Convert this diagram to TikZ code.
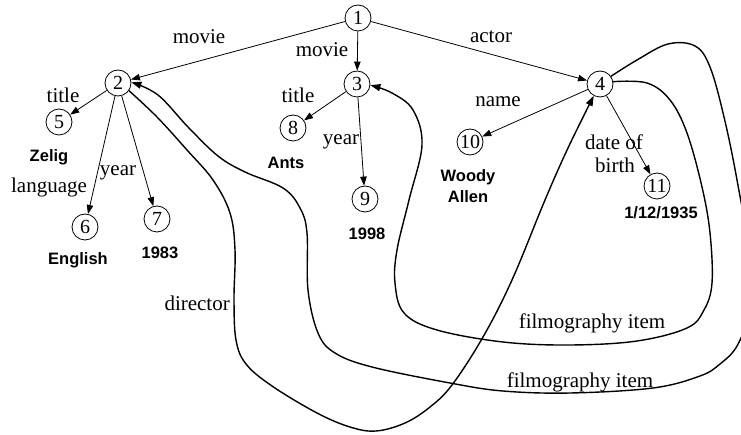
\documentclass[tikz,border=0pt]{standalone}
\usepackage{fontspec}
\setmainfont{Liberation Serif}
\newfontfamily\valfont{Liberation Sans}
\usetikzlibrary{arrows.meta}
\tikzset{
  vnode/.style={circle,draw,line width=0.8pt,minimum size=26pt,inner sep=0pt,font=\fontsize{20}{22}\selectfont},
  lbl/.style={inner sep=0pt,font=\fontsize{21}{24}\selectfont},
  val/.style={inner sep=0pt,font=\valfont\bfseries\fontsize{16.5}{19}\selectfont},
  edge/.style={line width=0.8pt,-{Triangle[length=9pt,width=6.5pt]}},
  link/.style={line width=1.4pt,-{Triangle[length=10pt,width=7pt]}},
}
\begin{document}
\begin{tikzpicture}[x=1pt,y=-1pt]
\useasboundingbox (0,0) rectangle (741,435);
\begin{scope}
\clip (0,0) rectangle (741,435);
% nodes
\node[vnode] (n1) at (358,18) {1};
\node[vnode] (n2) at (118,83) {2};
\node[vnode] (n3) at (357,84) {3};
\node[vnode] (n4) at (600,84) {4};
\node[vnode] (n5) at (59,122) {5};
\node[vnode] (n6) at (85,227) {6};
\node[vnode] (n7) at (157,219) {7};
\node[vnode] (n8) at (293,128) {8};
\node[vnode] (n9) at (365,199) {9};
\node[vnode] (n10) at (470,142) {10};
\node[vnode] (n11) at (657,186) {11};
% straight edges
\draw[edge] (n1) -- (n2);
\draw[edge] (n1) -- (n3);
\draw[edge] (n1) -- (n4);
\draw[edge] (n2) -- (n5);
\draw[edge] (n2) -- (n6);
\draw[edge] (n2) -- (n7);
\draw[edge] (n3) -- (n8);
\draw[edge] (n3) -- (n9);
\draw[edge] (n4) -- (n10);
\draw[edge] (n4) -- (n11);
% director: 2 -> 4
\draw[link] plot[smooth,tension=0.6] coordinates {(n2.-35) (157,117) (187,150) (213,180) (230,213) (235,250) (234,300) (236,340) (246,364) (272,386) (317,413) (350,427) (376,431) (405,423) (430,407) (452,385) (483,337) (512,280) (545,200) (568,148) (n4.-118)};
% filmography item: 4 -> 2 (outer)
\draw[link] plot[smooth,tension=0.6] coordinates {(n4.35) (637,60) (668,44) (695,46) (710,67) (724,117) (737,180) (749,255) (747,315) (737,346) (720,364) (700,376) (653,388) (570,393) (503,391) (450,383) (372,367) (335,353) (318,333) (308,290) (307,233) (300,208) (283,188) (245,172) (218,156) (188,127) (158,95) (n2.3)};
% filmography item: 4 -> 3 (inner)
\draw[link] plot[smooth,tension=0.6] coordinates {(n4.10) (647,83) (670,100) (687,133) (702,187) (710,233) (712,283) (704,310) (687,328) (637,341) (570,345) (503,342) (437,330) (404,313) (395,283) (397,250) (409,200) (422,145) (413,110) (392,93) (n3.-5)};
% labels
\node[lbl] (lmovie1) at (199,37) {movie};
\node[lbl] (lmovie2) at (322,50) {movie};
\node[lbl] (lactor) at (491,37) {actor};
\node[lbl] (ltitle2) at (63,95) {title};
\node[lbl] (llang) at (49,187) {language};
\node[lbl] (lyear2) at (118,173) {year};
\node[lbl] (ltitle3) at (298,95) {title};
\node[lbl] (lyear3) at (341,142) {year};
\node[lbl] (lname) at (498,102) {name};
\node[lbl] (ldate) at (614,142) {date of};
\node[lbl] (lbirth) at (615,165) {birth};
\node[lbl,anchor=east] (ldir) at (230,303) {director};
\node[lbl] (lfilm1) at (592,323) {filmography item};
\node[lbl] (lfilm2) at (580,382) {filmography item};
% values
\node[val] (vzelig) at (49,157) {Zelig};
\node[val] (veng) at (78,260) {English};
\node[val] (v1983) at (160,253) {1983};
\node[val] (vants) at (286,163) {Ants};
\node[val] (v1998) at (367,234) {1998};
\node[val] (vwoody) at (468,177) {Woody};
\node[val] (vallen) at (468,197) {Allen};
\node[val] (vdate) at (661,213) {1/12/1935};
\end{scope}
\end{tikzpicture}
\end{document}
